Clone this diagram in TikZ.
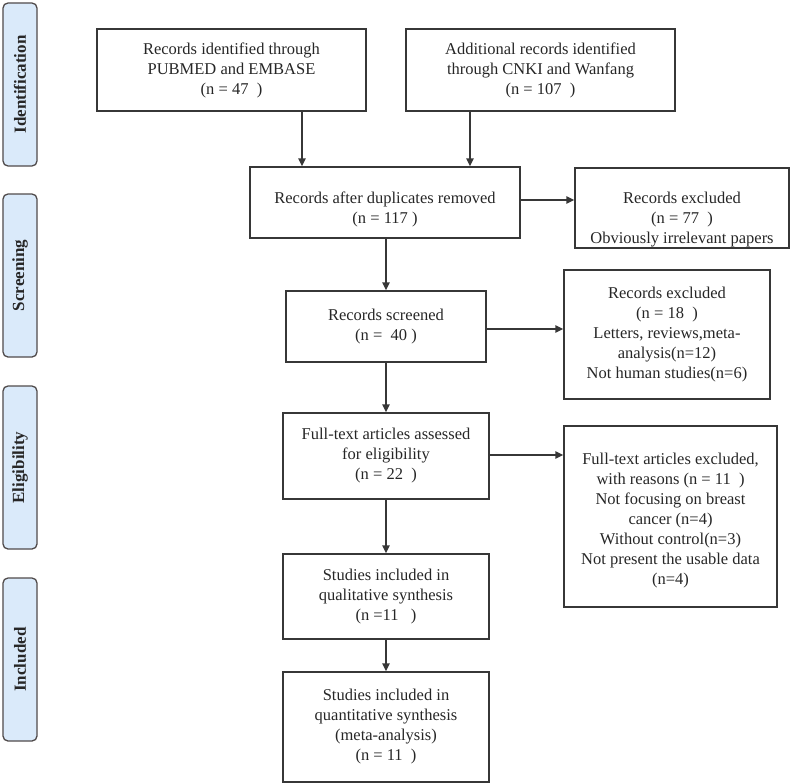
\documentclass[tikz,border=0pt]{standalone}
\usepackage{fontspec}
\setmainfont{Liberation Serif}
\usetikzlibrary{arrows.meta}
\definecolor{sidefill}{RGB}{218,234,250}
\definecolor{lineclr}{RGB}{55,55,55}
\definecolor{sideline}{RGB}{80,75,75}
\tikzset{
  flowbox/.style={draw=lineclr, line width=1.4bp, rectangle, align=center, inner sep=2bp,
    font=\fontsize{16.5bp}{20bp}\selectfont, text=black!85},
  boxtext/.style={align=center, inner sep=0pt,
    font=\fontsize{16.5bp}{20bp}\selectfont, text=black!85},
  sidebox/.style={draw=sideline, fill=sidefill, line width=1.3bp, rounded corners=5bp,
    minimum width=34bp, minimum height=163bp, inner sep=0pt},
  sidetext/.style={rotate=90, font=\fontsize{17bp}{20bp}\selectfont\bfseries, text=black!85},
  arr/.style={draw=lineclr, line width=1.4bp, -{Triangle[length=8bp,width=7.5bp]}},
}
\begin{document}
\begin{tikzpicture}[x=1bp,y=-1bp]
\useasboundingbox (0,0) rectangle (800,784);
% side labels
\node[sidebox] (s1) at (20,84.5) {};
\node[sidetext] (l1) at (s1.center) {Identification};
\node[sidebox] (s2) at (20,275.5) {};
\node[sidetext] (l2) at (s2.center) {Screening};
\node[sidebox] (s3) at (20,467.5) {};
\node[sidetext] (l3) at (s3.center) {Eligibility};
\node[sidebox] (s4) at (20,659.5) {};
\node[sidetext] (l4) at (s4.center) {Included};
% boxes
\node[flowbox, minimum width=269bp, minimum height=82bp] (b1) at (231.5,70)
  {Records identified through\\PUBMED and EMBASE\\(n = 47~~)};
\node[flowbox, minimum width=269bp, minimum height=82bp] (b2) at (540.5,70)
  {Additional records identified\\through CNKI and Wanfang\\(n = 107~~)};
\node[flowbox, minimum width=270bp, minimum height=71bp] (b3) at (385,202.5) {};
\node[boxtext] (t3) at ([yshift=-7bp]b3.center)
  {Records after duplicates removed\\(n = 117 )};
\node[flowbox, minimum width=214bp, minimum height=80bp] (b4) at (682,208) {};
\node[boxtext] (t4) at ([yshift=-12bp]b4.center)
  {Records excluded\\(n = 77~~)\\Obviously irrelevant papers};
\node[flowbox, minimum width=200bp, minimum height=71bp] (b5) at (386,326.5)
  {Records screened\\(n =~~40 )};
\node[flowbox, minimum width=206bp, minimum height=129bp] (b6) at (667,334.5)
  {Records excluded\\(n = 18~~)\\Letters, reviews,meta-\\analysis(n=12)\\Not human studies(n=6)};
\node[flowbox, minimum width=206bp, minimum height=86bp] (b7) at (386,456)
  {Full-text articles assessed\\for eligibility\\(n = 22~~)};
\node[flowbox, minimum width=213bp, minimum height=181bp] (b8) at (670.5,516.5) {};
\node[boxtext] (t8) at ([yshift=-4bp]b8.center)
  {Full-text articles excluded,\\with reasons (n = 11~~)\\Not focusing on breast\\cancer (n=4)\\Without control(n=3)\\Not present the usable data\\(n=4)};
\node[flowbox, minimum width=206bp, minimum height=85bp] (b9) at (386,596.5)
  {Studies included in\\qualitative synthesis\\(n =11~~~)};
\node[flowbox, minimum width=206bp, minimum height=110bp] (b10) at (386,727)
  {Studies included in\\quantitative synthesis\\(meta-analysis)\\(n = 11~~)};
% connectors
\draw[arr] (b1.south -| 302,0) -- (b3.north -| 302,0);
\draw[arr] (b2.south -| 470,0) -- (b3.north -| 470,0);
\draw[arr] (b3.south -| 386,0) -- (b5.north -| 386,0);
\draw[arr] (b5.south) -- (b7.north);
\draw[arr] (b7.south) -- (b9.north);
\draw[arr] (b9.south) -- (b10.north);
\draw[arr] (b3.east |- 0,200) -- (b4.west |- 0,200);
\draw[arr] (b5.east |- 0,329) -- (b6.west |- 0,329);
\draw[arr] (b7.east |- 0,455) -- (b8.west |- 0,455);
\end{tikzpicture}
\end{document}
